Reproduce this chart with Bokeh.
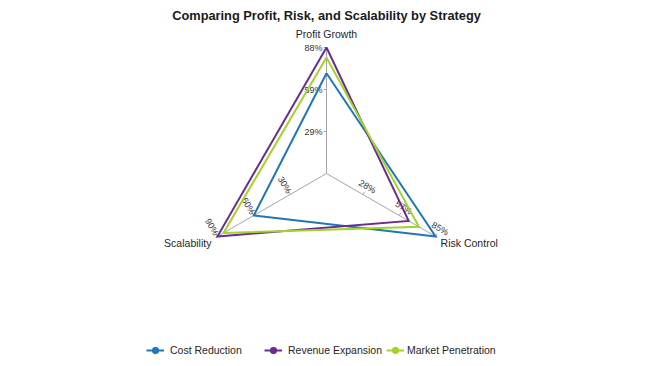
import math
from bokeh.plotting import figure
from bokeh.models import Range1d, ColumnDataSource, Legend, LegendItem
from bokeh.core.properties import value
from bokeh.embed import file_html
from bokeh.resources import INLINE

# ---------------- data ----------------
title_text = "Comparing Profit, Risk, and Scalability by Strategy"
categories = ["Profit Growth", "Risk Control", "Scalability"]
series_names = ["Cost Reduction", "Revenue Expansion", "Market Penetration"]
cost_reduction = [70, 85, 60]
revenue_expansion = [88, 64, 90]
market_penetration = [81, 72, 85]
colors = ["#1f77b8", "#6a2c8e", "#a5d22a"]
tick_fracs = [1 / 3, 2 / 3, 1.0]

series_values = [cost_reduction, revenue_expansion, market_penetration]
axis_max = [max(v[i] for v in series_values) for i in range(len(categories))]

# ---------------- layout ----------------
W, H = 646, 362
R = 126.0
cx, cy = 326, 173
angles = [math.radians(a) for a in (90, -30, 210)]
FONT = "Liberation Sans"

p = figure(width=W, height=H, x_range=Range1d(-cx, W - cx), y_range=Range1d(-(H - cy), cy),
           output_backend="svg", toolbar_location=None, min_border=0,
           x_axis_type=None, y_axis_type=None)
p.grid.visible = False
p.outline_line_color = None
p.background_fill_color = "white"
p.border_fill_color = "white"

# spokes
ends_x = [R * math.cos(a) for a in angles]
ends_y = [R * math.sin(a) for a in angles]
p.segment(x0=[0] * 3, y0=[0] * 3, x1=ends_x, y1=ends_y, line_color="#a6a6a6", line_width=1)

# tick labels
perp = [(-1.0, 0.0), (0.5, 0.866), (-0.5, 0.866)]
lab_off = [4, 9, 11]
lab_angle = [0, -math.pi / 6, -math.pi / 3]
lab_align = ["right", "center", "center"]
for i, a in enumerate(angles):
    tx, ty, tt = [], [], []
    kx0, ky0, kx1, ky1 = [], [], [], []
    for f in tick_fracs:
        bx, by = f * R * math.cos(a), f * R * math.sin(a)
        tx.append(bx + lab_off[i] * perp[i][0])
        ty.append(by + lab_off[i] * perp[i][1])
        tt.append(f"{round(axis_max[i] * f)}%")
        kx0.append(bx); ky0.append(by)
        kx1.append(bx + 3 * perp[i][0]); ky1.append(by + 3 * perp[i][1])
    p.segment(x0=kx0, y0=ky0, x1=kx1, y1=ky1, line_color="#a6a6a6", line_width=1)
    p.text(x=tx, y=ty, text=tt, angle=lab_angle[i], text_align=lab_align[i],
           text_baseline="middle", text_font=value(FONT), text_font_size="9px",
           text_color="#333333")

# series polygons
line_renderers = []
vertex_renderers = []
for vals, col in zip(series_values, colors):
    xs, ys = [], []
    for i, a in enumerate(angles):
        r = vals[i] / axis_max[i] * R
        xs.append(r * math.cos(a)); ys.append(r * math.sin(a))
    vr = p.scatter(x=list(xs), y=list(ys), marker="circle", size=0,
                   fill_color=col, line_color=col)
    xs.append(xs[0]); ys.append(ys[0])
    lr = p.line(xs, ys, line_color=col, line_width=2, line_join="miter")
    line_renderers.append(lr)
    vertex_renderers.append(vr)

# category labels
cat_dx = [0, 5, -6]
cat_dy = [8, -6, -6]
cat_align = ["center", "left", "right"]
cat_base = ["bottom", "middle", "middle"]
for i, c in enumerate(categories):
    p.text(x=[ends_x[i] + cat_dx[i]], y=[ends_y[i] + cat_dy[i]], text=[c],
           text_align=cat_align[i], text_baseline=cat_base[i],
           text_font=value(FONT), text_font_size="10.5px", text_color="#262626")

# title
p.text(x=[0], y=[cy - 14.5], text=[title_text], text_align="center", text_baseline="middle",
       text_font=value(FONT), text_font_size="12.8px", text_font_style="bold",
       text_color="#1a1a1a")

# legends
leg_x = [146, 264, 386]
leg_standoff = [6, 6, 3]
for name, col, lr, vr, lx, so in zip(series_names, colors, line_renderers, vertex_renderers,
                                     leg_x, leg_standoff):
    leg = Legend(items=[LegendItem(label=name, renderers=[lr, vr])], location=(lx, 4),
                 orientation="horizontal", padding=0, margin=0, spacing=0,
                 glyph_width=18, glyph_height=16, label_height=16, label_standoff=so,
                 label_text_font=FONT, label_text_font_size="10.5px",
                 label_text_color="#262626",
                 border_line_alpha=0, background_fill_alpha=0)
    p.add_layout(leg)

open("out.html", "w").write(file_html(p, INLINE))
